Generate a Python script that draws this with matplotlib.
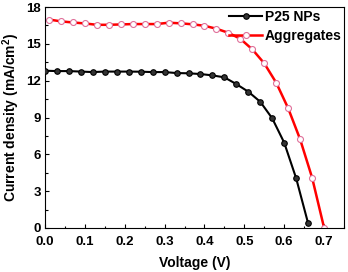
import matplotlib
matplotlib.use("Agg")
import matplotlib.pyplot as plt
from matplotlib.ticker import MultipleLocator

# Data
v_p25 = [0.00, 0.03, 0.06, 0.09, 0.12, 0.15, 0.18, 0.21, 0.24, 0.27, 0.30,
         0.33, 0.36, 0.39, 0.42, 0.45, 0.48, 0.51, 0.54, 0.57, 0.60, 0.63, 0.66]
j_p25 = [12.81, 12.78, 12.78, 12.74, 12.70, 12.74, 12.74, 12.74, 12.73, 12.70, 12.70,
         12.62, 12.60, 12.54, 12.43, 12.27, 11.72, 11.10, 10.28, 8.93, 6.95, 4.05, 0.38]
v_agg = [0.01, 0.04, 0.07, 0.10, 0.13, 0.16, 0.19, 0.22, 0.25, 0.28, 0.31,
         0.34, 0.37, 0.40, 0.43, 0.46, 0.49, 0.52, 0.55, 0.58, 0.61, 0.64, 0.67, 0.70]
j_agg = [16.98, 16.83, 16.74, 16.66, 16.55, 16.55, 16.58, 16.61, 16.61, 16.61, 16.72,
         16.67, 16.59, 16.47, 16.23, 15.90, 15.41, 14.55, 13.41, 11.83, 9.75, 7.22, 4.10, 0.02]
labels = ["P25 NPs", "Aggregates"]
xtick_vals = [0.0, 0.1, 0.2, 0.3, 0.4, 0.5, 0.6, 0.7]
xtick_labels = ["0.0", "0.1", "0.2", "0.3", "0.4", "0.5", "0.6", "0.7"]

plt.rcParams['font.family'] = ['Liberation Sans', 'DejaVu Sans']
plt.rcParams['font.weight'] = 'bold'
plt.rcParams['mathtext.fontset'] = 'custom'
plt.rcParams['mathtext.bf'] = 'Liberation Sans:bold'
plt.rcParams['mathtext.rm'] = 'Liberation Sans:bold'

fig = plt.figure(figsize=(3.48, 2.72), dpi=100)
ax = fig.add_axes([45/348, 1-228/272, (344-45)/348, (228-7)/272])

ax.plot(v_p25, j_p25, color='black', lw=1.5, marker='o', ms=4.0,
        mfc='#333333', mec='black', mew=0.8, label=labels[0], zorder=3)
ax.plot(v_agg, j_agg, color='#ff0000', lw=1.8, marker='o', ms=4.3,
        mfc='white', mec='#e0709a', mew=0.8, label=labels[1], zorder=2)

ax.set_xlim(0, 0.75)
ax.set_ylim(0, 18)
ax.xaxis.set_minor_locator(MultipleLocator(0.05))
ax.yaxis.set_major_locator(MultipleLocator(3))
ax.yaxis.set_minor_locator(MultipleLocator(1.5))
ax.set_xticks(xtick_vals)
ax.set_xticklabels(xtick_labels)
ax.tick_params(which='both', direction='in', top=False, right=False, labelsize=9.5, width=0.8)
ax.tick_params(which='major', length=3)
ax.tick_params(which='minor', length=1.8)
ax.tick_params(axis='x', pad=5.5)
ax.tick_params(axis='y', pad=3)
for lab in ax.get_xticklabels() + ax.get_yticklabels():
    lab.set_fontweight('bold')
for s in ax.spines.values():
    s.set_linewidth(0.8)

ax.set_xlabel("Voltage (V)", fontsize=10, fontweight='bold', labelpad=6)
ax.set_ylabel(r"Current density (mA/cm$^{\mathbf{2}}$)", fontsize=10, fontweight='bold', labelpad=3)

leg = ax.legend(loc='upper right', frameon=False, fontsize=10, handlelength=2.4,
                handletextpad=0.15, borderaxespad=0.0, labelspacing=0.3,
                bbox_to_anchor=(1.01, 1.01))
for t in leg.get_texts():
    t.set_fontweight('bold')

fig.savefig("out.png", dpi=100)
